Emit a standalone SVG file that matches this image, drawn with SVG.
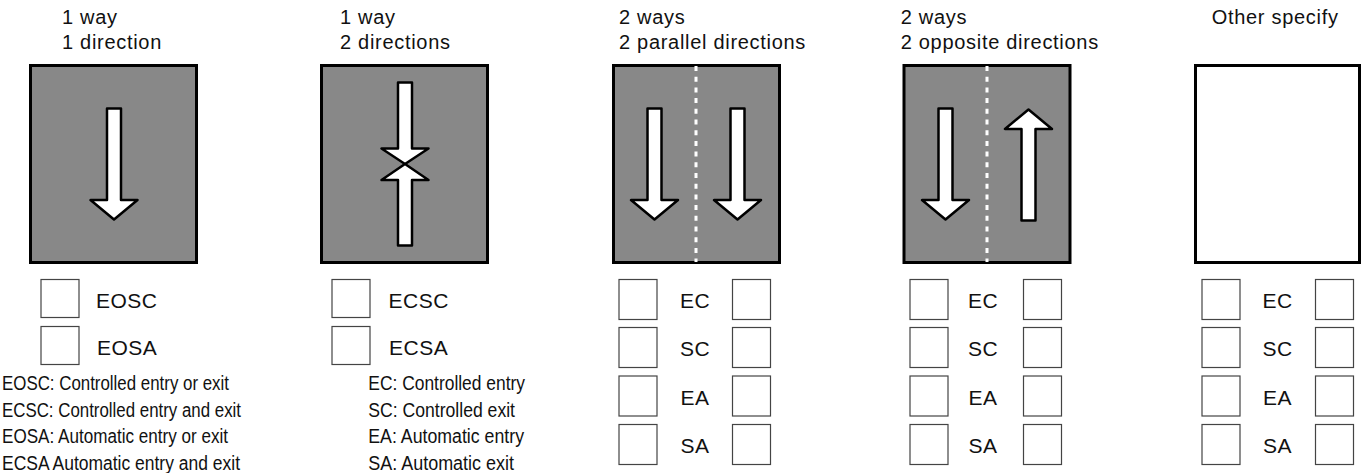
<svg xmlns="http://www.w3.org/2000/svg" xmlns:xlink="http://www.w3.org/1999/xlink" width="1362" height="473" viewBox="0 0 1362 473">
<style>
.title{font-family:"Liberation Sans",Arial,sans-serif;font-size:20px;letter-spacing:0.7px;fill:#111}
.lab{font-family:"Liberation Sans",Arial,sans-serif;font-size:21px;letter-spacing:0.5px;fill:#111}
.mid{text-anchor:middle}
.leg{font-family:"Liberation Sans",Arial,sans-serif;font-size:19.5px;fill:#111}
.panel{fill:#888888;stroke:#000;stroke-width:3}
.blank{fill:#fff;stroke:#000;stroke-width:3}
.arrow{fill:#fff;stroke:#000;stroke-width:2.5;stroke-linejoin:round}
.box{fill:#fff;stroke:#444;stroke-width:1.2}
.dash{stroke:#fff;stroke-width:3;stroke-dasharray:5 5.7;fill:none}
</style>
<defs>
<path id="adown" class="arrow" d="M-7,0 H7 V91.5 H23.5 L0,111 L-23.5,91.5 H-7 Z"/>
<rect id="cb" class="box" width="38" height="38"/>
<rect id="cb2" class="box" width="38" height="40"/>
</defs>
<rect width="1362" height="473" fill="#fff"/>

<g id="panel1">
<text class="title" x="62" y="23.5">1 way</text>
<text class="title" x="62" y="49">1 direction</text>
<rect class="panel" x="30.5" y="65.5" width="166" height="197"/>
<use xlink:href="#adown" href="#adown" transform="translate(114,108.5)"/>
<use xlink:href="#cb" href="#cb" x="41" y="279.5"/>
<use xlink:href="#cb" href="#cb" x="41" y="326.5"/>
<text class="lab" x="96" y="307.5">EOSC</text>
<text class="lab" x="97" y="355">EOSA</text>
</g>

<g id="panel2">
<text class="title" x="340" y="23.5">1 way</text>
<text class="title" x="340" y="49">2 directions</text>
<rect class="panel" x="321.5" y="65.5" width="166" height="197"/>
<path class="arrow" d="M398,82.5 H412 V148.5 H428.5 L405,164 L381.5,148.5 H398 Z"/>
<path class="arrow" d="M398,245.5 H412 V180 H428.5 L405,164 L381.5,180 H398 Z"/>
<use xlink:href="#cb" href="#cb" x="332" y="279.5"/>
<use xlink:href="#cb" href="#cb" x="332" y="326.5"/>
<text class="lab" x="388.5" y="307.5">ECSC</text>
<text class="lab" x="389" y="355">ECSA</text>
</g>

<g id="panel3">
<text class="title" x="619" y="23.5">2 ways</text>
<text class="title" x="619" y="49">2 parallel directions</text>
<rect class="panel" x="613.5" y="65.5" width="166" height="197"/>
<line class="dash" x1="696" y1="66" x2="696" y2="262"/>
<use xlink:href="#adown" href="#adown" transform="translate(654.5,108.5)"/>
<use xlink:href="#adown" href="#adown" transform="translate(737.5,108.5)"/>
<use xlink:href="#cb2" href="#cb2" x="619" y="279.5"/>
<use xlink:href="#cb2" href="#cb2" x="619" y="327.5"/>
<use xlink:href="#cb2" href="#cb2" x="619" y="376"/>
<use xlink:href="#cb2" href="#cb2" x="619" y="424.5"/>
<use xlink:href="#cb2" href="#cb2" x="732.5" y="279.5"/>
<use xlink:href="#cb2" href="#cb2" x="732.5" y="327.5"/>
<use xlink:href="#cb2" href="#cb2" x="732.5" y="376"/>
<use xlink:href="#cb2" href="#cb2" x="732.5" y="424.5"/>
<text class="lab mid" x="695" y="307.5">EC</text>
<text class="lab mid" x="695" y="356">SC</text>
<text class="lab mid" x="695" y="405">EA</text>
<text class="lab mid" x="695" y="453">SA</text>
</g>

<g id="panel4">
<text class="title" x="900.7" y="23.5">2 ways</text>
<text class="title" x="900.7" y="49">2 opposite directions</text>
<rect class="panel" x="904" y="65.5" width="166" height="197"/>
<line class="dash" x1="987" y1="66" x2="987" y2="262"/>
<use xlink:href="#adown" href="#adown" transform="translate(945.5,108.5)"/>
<use xlink:href="#adown" href="#adown" transform="translate(1028.5,220.5) scale(1,-1)"/>
<use xlink:href="#cb2" href="#cb2" x="910" y="279.5"/>
<use xlink:href="#cb2" href="#cb2" x="910" y="327.5"/>
<use xlink:href="#cb2" href="#cb2" x="910" y="376"/>
<use xlink:href="#cb2" href="#cb2" x="910" y="424.5"/>
<use xlink:href="#cb2" href="#cb2" x="1023.5" y="279.5"/>
<use xlink:href="#cb2" href="#cb2" x="1023.5" y="327.5"/>
<use xlink:href="#cb2" href="#cb2" x="1023.5" y="376"/>
<use xlink:href="#cb2" href="#cb2" x="1023.5" y="424.5"/>
<text class="lab mid" x="983" y="307.5">EC</text>
<text class="lab mid" x="983" y="356">SC</text>
<text class="lab mid" x="983" y="405">EA</text>
<text class="lab mid" x="983" y="453">SA</text>
</g>

<g id="panel5">
<text class="title" x="1211.7" y="24">Other specify</text>
<rect class="blank" x="1195.5" y="65.5" width="164" height="197"/>
<use xlink:href="#cb2" href="#cb2" x="1202" y="279.5"/>
<use xlink:href="#cb2" href="#cb2" x="1202" y="327.5"/>
<use xlink:href="#cb2" href="#cb2" x="1202" y="376"/>
<use xlink:href="#cb2" href="#cb2" x="1202" y="424.5"/>
<use xlink:href="#cb2" href="#cb2" x="1315.5" y="279.5"/>
<use xlink:href="#cb2" href="#cb2" x="1315.5" y="327.5"/>
<use xlink:href="#cb2" href="#cb2" x="1315.5" y="376"/>
<use xlink:href="#cb2" href="#cb2" x="1315.5" y="424.5"/>
<text class="lab mid" x="1277.5" y="307.5">EC</text>
<text class="lab mid" x="1277.5" y="356">SC</text>
<text class="lab mid" x="1277.5" y="405">EA</text>
<text class="lab mid" x="1277.5" y="453">SA</text>
</g>

<g id="legend-left">
<text class="leg" x="2" y="390" textLength="227" lengthAdjust="spacingAndGlyphs">EOSC: Controlled entry or exit</text>
<text class="leg" x="2" y="416.5" textLength="239" lengthAdjust="spacingAndGlyphs">ECSC: Controlled entry and exit</text>
<text class="leg" x="2" y="443" textLength="226" lengthAdjust="spacingAndGlyphs">EOSA: Automatic entry or exit</text>
<text class="leg" x="2" y="469.5" textLength="238" lengthAdjust="spacingAndGlyphs">ECSA Automatic entry and exit</text>
</g>

<g id="legend-right">
<text class="leg" x="368.3" y="390" textLength="156.7" lengthAdjust="spacingAndGlyphs">EC: Controlled entry</text>
<text class="leg" x="368.3" y="416.5" textLength="146.7" lengthAdjust="spacingAndGlyphs">SC: Controlled exit</text>
<text class="leg" x="368.3" y="443" textLength="155.7" lengthAdjust="spacingAndGlyphs">EA: Automatic entry</text>
<text class="leg" x="368.3" y="469.5" textLength="145.7" lengthAdjust="spacingAndGlyphs">SA: Automatic exit</text>
</g>
</svg>
